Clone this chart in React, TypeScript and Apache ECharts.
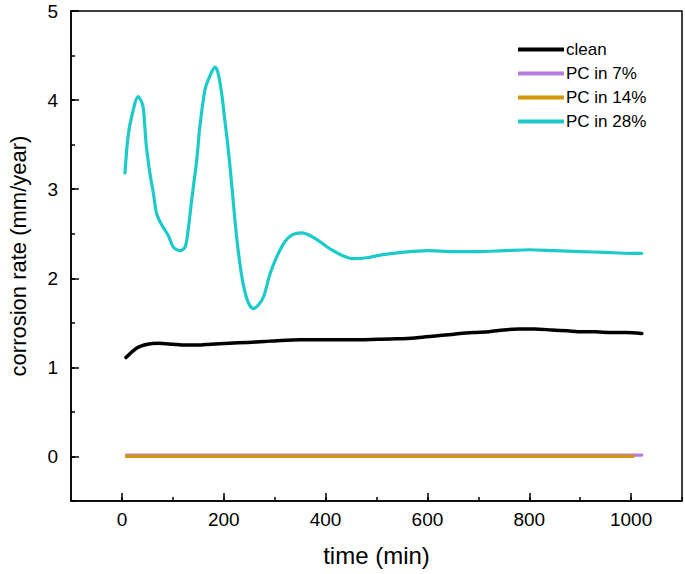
import React, { useEffect, useRef } from "react";
import * as echarts from "echarts";

const cleanT = [8, 30, 50, 72, 100, 123, 150, 174, 210, 247, 280, 305, 350, 393, 450, 502, 540, 575, 610, 648, 690, 721, 750, 779, 810, 844, 875, 903, 930, 961, 990, 1021];
const cleanV = [1.11, 1.22, 1.26, 1.27, 1.26, 1.25, 1.25, 1.26, 1.27, 1.28, 1.29, 1.30, 1.31, 1.31, 1.31, 1.315, 1.32, 1.33, 1.35, 1.37, 1.39, 1.40, 1.42, 1.43, 1.43, 1.42, 1.41, 1.40, 1.40, 1.39, 1.39, 1.38];

const pc7T = [9, 200, 400, 600, 800, 1021];
const pc7V = [0.015, 0.015, 0.015, 0.015, 0.015, 0.015];

const pc14T = [9, 200, 400, 600, 800, 1004];
const pc14V = [0.0, 0.0, 0.0, 0.0, 0.0, 0.0];

const pc28T = [6, 12, 19, 32, 41, 45, 48, 55, 62, 68, 78, 91, 101, 113, 124, 130, 137, 147, 153, 163, 172, 183, 189, 196, 202, 209, 216, 222, 229, 238, 248, 258, 268, 278, 291, 304, 320, 335, 353, 376, 409, 435, 454, 481, 507, 550, 600, 650, 700, 750, 800, 850, 900, 950, 1000, 1021];
const pc28V = [3.18, 3.59, 3.81, 4.04, 3.94, 3.70, 3.48, 3.18, 2.95, 2.73, 2.60, 2.48, 2.35, 2.31, 2.35, 2.54, 2.88, 3.33, 3.70, 4.11, 4.26, 4.37, 4.30, 4.07, 3.78, 3.44, 3.03, 2.65, 2.28, 1.94, 1.73, 1.66, 1.70, 1.79, 2.05, 2.24, 2.41, 2.49, 2.51, 2.46, 2.33, 2.25, 2.22, 2.23, 2.26, 2.29, 2.31, 2.30, 2.30, 2.31, 2.32, 2.31, 2.30, 2.29, 2.28, 2.28];

const seriesNames = ["clean", "PC in 7%", "PC in 14%", "PC in 28%"];
const seriesColors = ["#000000", "#b57edc", "#d4960a", "#1ccaca"];

const X_MIN = -100;
const X_MAX = 1100;
const X_LABEL_MIN = 0;
const X_LABEL_MAX = 1000;
const X_MAJOR = 200;
const X_MINOR = 100;
const Y_MIN = -0.5;
const Y_MAX = 5;
const Y_LABEL_MIN = 0;
const Y_MAJOR = 1;
const Y_MINOR = 0.5;

const zip = (t: number[], v: number[]) => t.map((x, i) => [x, v[i]]);

export default function App() {
  const ref = useRef<HTMLDivElement>(null);
  useEffect(() => {
    if (!ref.current) return;
    const chart = echarts.init(ref.current, null, { renderer: "svg" });
    const font = "Liberation Sans, Arial, sans-serif";
    const W = 685;
    const H = 574;
    const L = 71, R = 3, T = 11, B = 73;
    const pw = W - L - R;
    const ph = H - T - B;
    const x0px = L + ((X_LABEL_MIN - X_MIN) / (X_MAX - X_MIN)) * pw;
    const x1px = L + ((X_LABEL_MAX - X_MIN) / (X_MAX - X_MIN)) * pw;
    const y0px = T + ((Y_MAX - Y_LABEL_MIN) / (Y_MAX - Y_MIN)) * ph;
    const data = [zip(cleanT, cleanV), zip(pc7T, pc7V), zip(pc14T, pc14V), zip(pc28T, pc28V)];
    const tickStyle = { color: "#000", width: 1.5 };
    chart.setOption({
      animation: false,
      backgroundColor: "#ffffff",
      grid: [
        { left: L, right: R, top: T, bottom: B, containLabel: false, outerBoundsMode: "none", show: true, borderColor: "#000", borderWidth: 1.5, backgroundColor: "transparent" },
        { left: x0px, right: W - x1px, top: T, bottom: B, containLabel: false, outerBoundsMode: "none", show: false },
        { left: L, right: R, top: T, bottom: H - y0px, containLabel: false, outerBoundsMode: "none", show: false },
      ],
      legend: {
        orient: "vertical",
        left: 513,
        top: 36,
        itemWidth: 46,
        itemHeight: 4,
        itemGap: 7,
        icon: "rect",
        data: seriesNames,
        textStyle: { fontFamily: font, fontSize: 17, color: "#000", lineHeight: 16, padding: [0, 0, 0, -3] },
      },
      xAxis: [
        {
          gridIndex: 0,
          type: "value",
          min: X_MIN,
          max: X_MAX,
          interval: X_MINOR,
          position: "bottom",
          name: "time (min)",
          nameLocation: "middle",
          nameGap: 42,
          nameTextStyle: { fontFamily: font, fontSize: 24, color: "#000" },
          axisLine: { show: true, onZero: false, lineStyle: { color: "#000", width: 1.5 } },
          axisTick: { show: true, inside: true, length: 4, lineStyle: tickStyle },
          axisLabel: { show: false },
          splitLine: { show: false },
        },
        {
          gridIndex: 1,
          type: "value",
          min: X_LABEL_MIN,
          max: X_LABEL_MAX,
          interval: X_MAJOR,
          position: "bottom",
          axisLine: { show: false, onZero: false },
          axisTick: { show: true, inside: true, length: 8, lineStyle: tickStyle },
          axisLabel: { show: true, margin: 9, fontFamily: font, fontSize: 19, color: "#000", formatter: (v: number) => String(v) },
          splitLine: { show: false },
        },
        {
          gridIndex: 2,
          type: "value",
          min: X_MIN,
          max: X_MAX,
          show: false,
        },
      ],
      yAxis: [
        {
          gridIndex: 0,
          type: "value",
          min: Y_MIN,
          max: Y_MAX,
          interval: Y_MINOR,
          position: "left",
          name: "corrosion rate (mm/year)",
          nameLocation: "middle",
          nameGap: 42,
          nameTextStyle: { fontFamily: font, fontSize: 22, color: "#000" },
          axisLine: { show: true, onZero: false, lineStyle: { color: "#000", width: 1.5 } },
          axisTick: { show: true, inside: true, length: 4, lineStyle: tickStyle },
          axisLabel: { show: false },
          splitLine: { show: false },
        },
        {
          gridIndex: 1,
          type: "value",
          min: Y_MIN,
          max: Y_MAX,
          show: false,
        },
        {
          gridIndex: 2,
          type: "value",
          min: Y_LABEL_MIN,
          max: Y_MAX,
          interval: Y_MAJOR,
          position: "left",
          axisLine: { show: false, onZero: false },
          axisTick: { show: true, inside: true, length: 8, lineStyle: tickStyle },
          axisLabel: { show: true, margin: 13, fontFamily: font, fontSize: 19, color: "#000" },
          splitLine: { show: false },
        },
      ],
      series: seriesNames.map((name, i) => ({
        name,
        type: "line",
        xAxisIndex: 0,
        yAxisIndex: 0,
        data: data[i],
        smooth: 0.3,
        showSymbol: false,
        symbol: "none",
        color: seriesColors[i],
        lineStyle: { color: seriesColors[i], width: i === 0 ? 3.5 : 3.2, cap: "round", join: "round" },
      })),
    });
    return () => chart.dispose();
  }, []);
  return (
    <div
      ref={ref}
      style={{ position: "fixed", left: 0, top: 0, width: 685, height: 574 }}
    />
  );
}
